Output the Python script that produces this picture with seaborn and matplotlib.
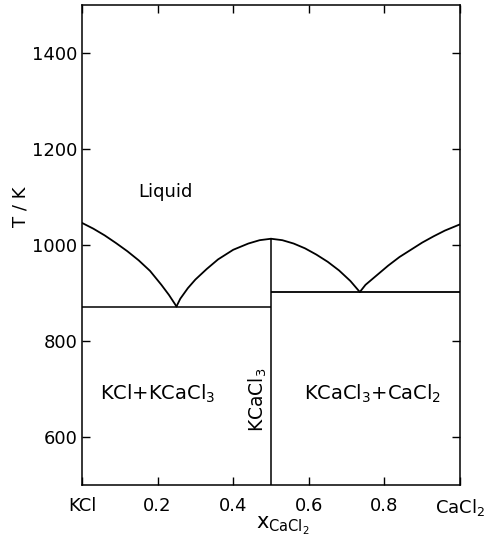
import pandas as pd
import numpy as np
import matplotlib
matplotlib.use("Agg")
import matplotlib.pyplot as plt
import seaborn as sns

# liquidus branches (x = mole fraction CaCl2, T in K)
x_kcl = [0.0, 0.03, 0.06, 0.09, 0.12, 0.15, 0.18, 0.21, 0.23, 0.25]
t_kcl = [1046, 1034, 1020, 1004, 987, 968, 946, 917, 896, 872]
x_cmp_left = [0.25, 0.26, 0.28, 0.30, 0.33, 0.36, 0.40, 0.44, 0.47, 0.50]
t_cmp_left = [872, 888, 910, 928, 950, 970, 990, 1003, 1010, 1013]
x_cmp_right = [0.50, 0.53, 0.56, 0.59, 0.62, 0.65, 0.68, 0.71, 0.735]
t_cmp_right = [1013, 1010, 1003, 993, 980, 965, 947, 925, 902]
x_cacl2 = [0.735, 0.75, 0.78, 0.81, 0.84, 0.87, 0.90, 0.93, 0.96, 1.0]
t_cacl2 = [902, 917, 937, 957, 975, 990, 1005, 1018, 1030, 1043]

# eutectic horizontals and the compound line
eut1_x = [0.0, 0.5]
eut1_t = 871
eut2_x = [0.5, 1.0]
eut2_t = 902
comp_x = 0.5
comp_t = [500, 1013]

xticks = [0.0, 0.2, 0.4, 0.6, 0.8, 1.0]
xticklabels = ["KCl", "0.2", "0.4", "0.6", "0.8", "CaCl$_2$"]
yticks = [600, 800, 1000, 1200, 1400]

sns.set_style("ticks")
plt.rcParams['font.family'] = ['DejaVu Sans']
plt.rcParams['text.color'] = 'black'
plt.rcParams['axes.labelcolor'] = 'black'

fig = plt.figure(figsize=(4.86, 5.42), dpi=100)
ax = fig.add_axes([0.1687, 0.1052, 0.7778, 0.8856])

branches = [(x_kcl, t_kcl), (x_cmp_left, t_cmp_left),
            (x_cmp_right, t_cmp_right), (x_cacl2, t_cacl2)]
for bx, bt in branches:
    d = pd.DataFrame({"x": bx, "T": bt})
    sns.lineplot(data=d, x="x", y="T", ax=ax, color="black", lw=1.3,
                 sort=False, estimator=None)

ax.hlines(eut1_t, eut1_x[0], eut1_x[1], color="black", lw=1.1)
ax.hlines(eut2_t, eut2_x[0], eut2_x[1], color="black", lw=1.3)
ax.vlines(comp_x, comp_t[0], comp_t[1], color="black", lw=1.1)

ax.set_xlim(0, 1)
ax.set_ylim(500, 1500)
ax.set_xticks(xticks)
ax.set_xticklabels(xticklabels)
ax.set_yticks(yticks)
ax.tick_params(direction="in", length=6, width=1, labelsize=13,
               top=True, right=True, colors="black")
ax.tick_params(axis="x", pad=9)
for s in ax.spines.values():
    s.set_linewidth(1.1)
    s.set_color("black")

ax.set_xlabel("x$_{\\mathregular{CaCl_2}}$", fontsize=15, labelpad=0)
ax.set_ylabel("T / K", fontsize=13)
ax.yaxis.set_label_coords(-0.14, 0.58)
ax.xaxis.set_label_coords(0.53, -0.062)

ax.text(0.22, 1110, "Liquid", fontsize=13, ha="center", va="center")
ax.text(0.2, 690, "KCl+KCaCl$_3$", fontsize=14, ha="center", va="center")
ax.text(0.77, 690, "KCaCl$_3$+CaCl$_2$", fontsize=14, ha="center", va="center")
ax.text(0.466, 677, "KCaCl$_3$", fontsize=13.5, ha="center", va="center",
        rotation=90)

fig.savefig("out.png", dpi=100)
